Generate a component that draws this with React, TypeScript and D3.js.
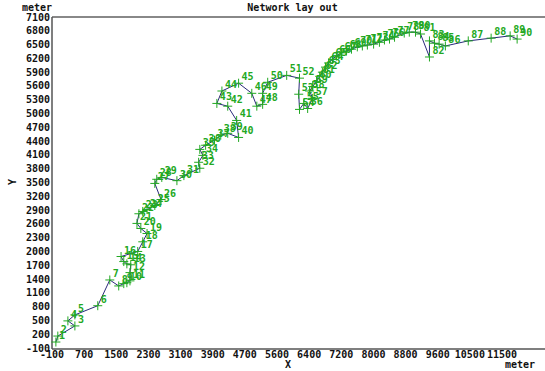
import * as d3 from "d3";
import React from "react";

// Node coordinates of the network (meter)
const nodeX = [
  0, 50, 490, 310, 490, 1080, 1390, 1620, 1750, 1830,
  1910, 1910, 1930, 1830, 1750, 1680, 2110, 2240, 2350, 2190,
  2090, 2140, 2240, 2350, 2550, 2710, 2550, 2600, 2730, 3120,
  3300, 3710, 3680, 3790, 3710, 3860, 4090, 4250, 4430, 4710,
  4660, 4430, 4150, 4280, 4710, 5050, 5180, 5330, 5330, 5460,
  5950, 6280, 6260, 6280, 6390, 6490, 6620, 6540, 6620, 6720,
  6800, 6870, 6950, 7030, 7130, 7230, 7360, 7490, 7620, 7770,
  7900, 8030, 8190, 8340, 8470, 8600, 8730, 8980, 9110, 9270,
  9400, 9630, 9630, 9760, 9880, 10040, 10630, 11220, 11710, 11890,
];
const nodeY = [
  30, 160, 380, 490, 620, 820, 1380, 1250, 1300, 1320,
  1360, 1540, 1710, 1730, 1780, 1890, 2000, 2210, 2390, 2500,
  2610, 2820, 2870, 2910, 3000, 3130, 3480, 3570, 3610, 3540,
  3650, 3810, 3940, 4090, 4220, 4310, 4420, 4530, 4570, 4480,
  4850, 5160, 5220, 5490, 5660, 5440, 5160, 5200, 5440, 5680,
  5830, 5770, 5420, 5090, 5220, 5110, 5330, 5490, 5590, 5700,
  5810, 5900, 6010, 6100, 6180, 6250, 6320, 6360, 6400, 6450,
  6470, 6490, 6510, 6550, 6600, 6620, 6660, 6750, 6770, 6770,
  6730, 6230, 6580, 6530, 6510, 6470, 6580, 6640, 6690, 6620,
];

// axis tick labels (x ticks are evenly spaced, labels rounded)
const xTickLabels = ["-100", "700", "1500", "2300", "3100", "3900", "4700", "5600", "6400", "7200", "8000", "8800", "9600", "10500", "11500"];
const yTicks = d3.range(-100, 7101, 300);

const W = 545;
const H = 371;
const left = 52;
const top = 17;
const bottom = 348;
const right = 545;

const font = "'DejaVu Sans Mono', monospace";
const green = "#22a822";

export default function App() {
  const x = d3.scaleLinear().domain([-100, 11500]).range([left, 502]);
  const y = d3.scaleLinear().domain([-100, 7100]).range([bottom, top]);
  const xStep = 11600 / (xTickLabels.length - 1);

  const nodes = nodeX.map((v, i) => ({ id: i + 1, x: x(v), y: y(nodeY[i]) }));
  const line = d3
    .line<{ x: number; y: number }>()
    .x((d) => d.x)
    .y((d) => d.y);

  return (
    <svg width={W} height={H} style={{ position: "absolute", left: 0, top: 0, background: "#fff" }}>
      <g fontFamily={font} fontWeight="bold" fontSize={10} fill="#111">
        <text x={W / 2 + 20} y={11} textAnchor="middle">Network lay out</text>
        <text x={22} y={11}>meter</text>
        <text x={505} y={368}>meter</text>
        <text x={288} y={368} textAnchor="middle">X</text>
        <text transform={`translate(16,182) rotate(-90)`} textAnchor="middle">Y</text>
        {yTicks.map((t) => (
          <text key={t} x={50} y={y(t) + 3.5} textAnchor="end">{t}</text>
        ))}
        {xTickLabels.map((t, i) => (
          <text key={t} x={x(-100 + i * xStep)} y={358} textAnchor="middle">{t}</text>
        ))}
      </g>
      <line x1={left} x2={right} y1={top} y2={top} stroke="#888" strokeWidth={2} />
      <line x1={left} x2={left} y1={top} y2={bottom + 1} stroke="#555" strokeWidth={1.5} />
      <line x1={left} x2={right} y1={bottom + 1} y2={bottom + 1} stroke="#555" strokeWidth={1.5} />
      <path d={line(nodes) || ""} fill="none" stroke="#2a2a7a" strokeWidth={1} />
      <g stroke={green} strokeWidth={1}>
        {nodes.map((n) => (
          <path key={n.id} d={`M${n.x - 4.5},${n.y}H${n.x + 4.5}M${n.x},${n.y - 4.5}V${n.y + 4.5}`} />
        ))}
      </g>
      <g fontFamily={font} fontWeight="bold" fontSize={10} fill={green}>
        {nodes.map((n) => (
          <text key={n.id} x={n.x + 3} y={n.y - 3}>{n.id}</text>
        ))}
      </g>
    </svg>
  );
}
